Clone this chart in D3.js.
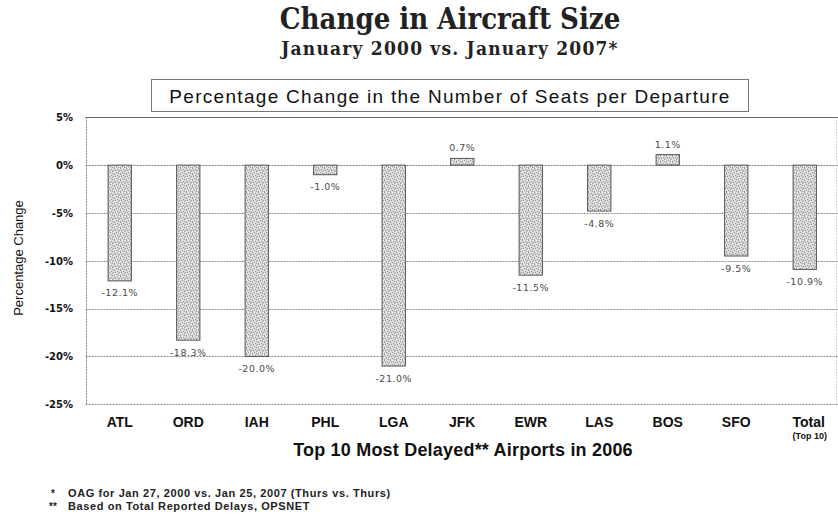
<!DOCTYPE html>
<html>
<head>
<meta charset="utf-8">
<script src="https://cdn.jsdelivr.net/npm/d3@7"></script>
<style>
  html, body { margin: 0; padding: 0; background: #fff; }
  svg { display: block; }
</style>
</head>
<body>
<svg id="chart" width="838" height="515"></svg>
<script>
// Airports (top 10 most delayed in 2006) plus the combined total
const airports = ["ATL", "ORD", "IAH", "PHL", "LGA", "JFK", "EWR", "LAS", "BOS", "SFO", "Total"];
// Percentage change in seats per departure, Jan 2000 vs Jan 2007
const seatChange = [-12.1, -18.3, -20.0, -1.0, -21.0, 0.7, -11.5, -4.8, 1.1, -9.5, -10.9];
// Y-axis tick values (percent)
const yTicks = [5, 0, -5, -10, -15, -20, -25];
const footnotes = [
  ["*", "OAG for Jan 27, 2000 vs. Jan 25, 2007 (Thurs vs. Thurs)"],
  ["**", "Based on Total Reported  Delays, OPSNET"]
];

const svg = d3.select("#chart");

// stippled grey fill for the bars
const defs = svg.append("defs");
const pat = defs.append("pattern")
  .attr("id", "stipple").attr("patternUnits", "userSpaceOnUse")
  .attr("width", 6).attr("height", 6);
pat.append("rect").attr("width", 6).attr("height", 6).attr("fill", "#d6d6d6");
const darkDots = [[0,0],[3,1],[1,2],[5,2],[2,4],[4,3],[0,5],[4,5]];
const lightDots = [[2,0],[5,0],[0,3],[3,3],[1,5],[5,4]];
darkDots.forEach(([px, py]) => pat.append("rect").attr("x", px).attr("y", py)
  .attr("width", 1).attr("height", 1).attr("fill", "#9a9a9a"));
lightDots.forEach(([px, py]) => pat.append("rect").attr("x", px).attr("y", py)
  .attr("width", 1).attr("height", 1).attr("fill", "#f2f2f2"));

const plotLeft = 85.5, plotRight = 839, plotTop = 117.3, plotBottom = 404.3;

const x = d3.scaleBand().domain(airports).range([plotLeft, plotRight])
  .paddingInner(0.66).paddingOuter(0.33);
const y = d3.scaleLinear().domain([-25, 5]).range([plotBottom, plotTop]);

// titles
const serif = "'DejaVu Serif Condensed', 'DejaVu Serif', serif";
svg.append("text").attr("x", 450).attr("y", 29)
  .attr("text-anchor", "middle")
  .style("font-family", serif)
  .style("font-weight", "bold").style("font-size", "29px").style("fill", "#222")
  .text("Change in Aircraft Size");
svg.append("text").attr("x", 450).attr("y", 55)
  .attr("text-anchor", "middle")
  .style("font-family", serif)
  .style("font-weight", "bold").style("font-size", "19px").style("letter-spacing", "1.2px")
  .style("fill", "#222")
  .text("January 2000 vs. January 2007*");

// horizontal gridlines
svg.append("g").selectAll("line").data(yTicks).join("line")
  .attr("x1", plotLeft).attr("x2", plotRight)
  .attr("y1", d => Math.round(y(d)) + 0.5).attr("y2", d => Math.round(y(d)) + 0.5)
  .attr("stroke", d => d === 5 ? "#666" : (d === 0 ? "#707070" : "#8a8a8a"))
  .attr("stroke-width", 1)
  .attr("stroke-dasharray", d => d === 5 ? null : "2,1");

// vertical frame lines
svg.append("line").attr("x1", 86.5).attr("x2", 86.5).attr("y1", plotTop).attr("y2", plotBottom)
  .attr("stroke", "#888").attr("stroke-dasharray", "2,1");
svg.append("line").attr("x1", 836.5).attr("x2", 836.5).attr("y1", plotTop).attr("y2", plotBottom)
  .attr("stroke", "#aaa").attr("stroke-dasharray", "1,2");

// boxed chart subtitle
svg.append("rect").attr("x", 151.5).attr("y", 79.5).attr("width", 597).attr("height", 32)
  .attr("fill", "#fff").attr("stroke", "#777").attr("stroke-width", 1);
svg.append("text").attr("x", 450).attr("y", 103)
  .attr("text-anchor", "middle")
  .style("font-family", "'Liberation Sans', Arial, sans-serif")
  .style("font-size", "19px").style("letter-spacing", "1.3px").style("fill", "#111")
  .text("Percentage Change in the Number of Seats per Departure");

// y axis
const yAxis = d3.axisLeft(y).tickValues(yTicks).tickSize(0).tickPadding(13)
  .tickFormat(d => d + "%");
const gy = svg.append("g").attr("transform", `translate(86,0)`).call(yAxis);
gy.select(".domain").remove();
gy.selectAll("text")
  .style("font-family", "'DejaVu Sans', Verdana, sans-serif")
  .style("font-weight", "bold").style("font-size", "10px").style("fill", "#111");

svg.append("text")
  .attr("transform", "translate(23,258) rotate(-90)")
  .attr("text-anchor", "middle")
  .style("font-family", "'Liberation Sans', Arial, sans-serif")
  .style("font-size", "13px").style("fill", "#111")
  .text("Percentage Change");

// bars
const data = airports.map((a, i) => ({ a, v: seatChange[i] }));
svg.append("g").selectAll("rect").data(data).join("rect")
  .attr("x", d => x(d.a))
  .attr("width", x.bandwidth())
  .attr("y", d => y(Math.max(0, d.v)))
  .attr("height", d => Math.abs(y(d.v) - y(0)))
  .attr("fill", "url(#stipple)")
  .attr("stroke", "#555").attr("stroke-width", 1);

// value labels
svg.append("g").selectAll("text").data(data).join("text")
  .attr("x", d => x(d.a) + x.bandwidth() / 2)
  .attr("y", d => d.v >= 0 ? y(d.v) - 7 : y(d.v) + 15.5)
  .attr("text-anchor", "middle")
  .style("font-family", "'DejaVu Sans', Verdana, sans-serif")
  .style("font-size", "9.5px").style("letter-spacing", "0.5px").style("fill", "#4a4a4a")
  .text(d => d.v.toFixed(1) + "%");

// x axis category labels
const xAxis = d3.axisBottom(x).tickSize(0).tickPadding(0);
const gx = svg.append("g").attr("transform", `translate(0,${plotBottom})`).call(xAxis);
gx.select(".domain").remove();
gx.selectAll("text")
  .attr("y", 23).attr("dy", null)
  .attr("x", d => d === "Total" ? 4 : 0)
  .style("font-family", "'Liberation Sans', Arial, sans-serif")
  .style("font-weight", "bold").style("font-size", "14px").style("fill", "#111");
gx.selectAll(".tick").filter(d => d === "Total").append("text")
  .attr("y", 35).attr("x", 5).attr("text-anchor", "middle")
  .style("font-family", "'Liberation Sans', Arial, sans-serif")
  .style("font-weight", "bold").style("font-size", "9px").style("fill", "#111")
  .text("(Top 10)");

svg.append("text").attr("x", 463).attr("y", 456)
  .attr("text-anchor", "middle")
  .style("font-family", "'Liberation Sans', Arial, sans-serif")
  .style("font-weight", "bold").style("font-size", "18px").style("letter-spacing", "0.2px")
  .style("fill", "#111")
  .text("Top 10 Most Delayed** Airports in 2006");

// footnotes
const fn = svg.append("g").selectAll("g").data(footnotes).join("g")
  .attr("transform", (d, i) => `translate(0,${497 + i * 13})`);
fn.append("text").attr("x", 53).attr("text-anchor", "middle")
  .style("font-family", "'Liberation Sans', Arial, sans-serif")
  .style("font-weight", "bold").style("font-size", "10px").style("fill", "#222")
  .text(d => d[0]);
fn.append("text").attr("x", 68)
  .style("font-family", "'Liberation Sans', Arial, sans-serif")
  .style("font-weight", "bold").style("font-size", "11px").style("letter-spacing", "0.6px")
  .style("fill", "#222")
  .text(d => d[1]);
</script>
</body>
</html>
